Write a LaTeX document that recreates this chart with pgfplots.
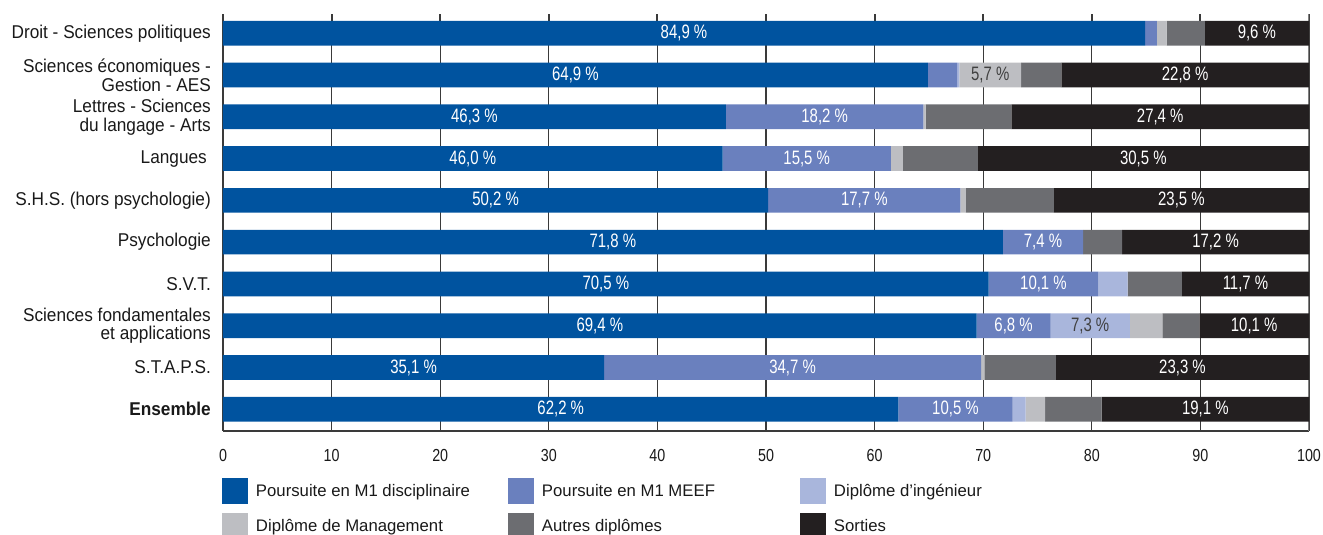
\documentclass[border=0pt]{standalone}
\usepackage{pgfplots}
\usepackage{pgfplotstable}
\pgfplotsset{compat=1.18}
\usepackage{fontspec}
\setmainfont{Liberation Sans}
\newfontfamily\catfont[FakeStretch=0.93]{Liberation Sans}
\newfontfamily\barfont[FakeStretch=0.77]{Liberation Sans}
\newfontfamily\tickfont[FakeStretch=0.82]{Liberation Sans}
\definecolor{cBlue}{HTML}{00539F}
\definecolor{cMeef}{HTML}{6A80BE}
\definecolor{cIng}{HTML}{A9B6DC}
\definecolor{cMgmt}{HTML}{BDBEC2}
\definecolor{cAutres}{HTML}{6C6D71}
\definecolor{cSorties}{HTML}{231F20}
\definecolor{cGrid}{HTML}{3A3A3A}

\pgfplotstableread{
y blue meef ing mgmt autres sorties
0 84.9 1.1 0.0 0.9 3.5 9.6
1 64.9 2.7 0.2 5.7 3.7 22.8
2 46.3 18.2 0.0 0.2 7.9 27.4
3 46.0 15.5 0.0 1.1 6.9 30.5
4 50.2 17.7 0.0 0.5 8.1 23.5
5 71.8 7.4 0.0 0.0 3.6 17.2
6 70.5 10.1 2.7 0.0 5.0 11.7
7 69.4 6.8 7.3 3.0 3.4 10.1
8 35.1 34.7 0.0 0.3 6.6 23.3
9 62.2 10.5 1.2 1.8 5.2 19.1
}\data

\begin{document}
\begin{tikzpicture}
\begin{axis}[name=ax, scale only axis, width=1086bp, height=417bp,
  xbar stacked, bar width=24.7bp,
  xmin=0, xmax=100, ymin=-0.46, ymax=9.52, y dir=reverse,
  axis x line*=bottom, axis y line*=left,
  x axis line style={line width=2bp, color=cGrid},
  y axis line style={line width=1.3bp, color=cGrid},
  xtick={0,10,...,100}, xtick style={draw=none},
  xmajorgrids, major grid style={line width=1.2bp, color=cGrid},
  ytick={0,...,9}, ytick style={draw=none},
  yticklabels={Droit - Sciences politiques,
    {Sciences économiques -\\Gestion - AES},
    {Lettres - Sciences\\du langage - Arts},
    Langues\hspace{4bp},
    S.H.S. (hors psychologie),
    Psychologie,
    S.V.T.,
    {Sciences fondamentales\\et applications},
    S.T.A.P.S.,
    \textbf{Ensemble}},
  yticklabel style={font=\catfont\fontsize{18.6}{19}\selectfont, align=right, inner sep=0pt, xshift=-12bp, text=black!90},
  /pgf/number format/assume math mode=true,
  xticklabel style={font=\tickfont\fontsize{17.5}{17.5}\selectfont, inner sep=0pt, yshift=-18bp, text=black!90},
  legend columns=3, legend cell align=left,
  legend style={draw=none, fill=none, inner sep=0pt, outer sep=0pt,
    at={(0,0)}, anchor=north west, xshift=-1bp, yshift=-47bp,
    row sep=9bp, font=\fontsize{16.8}{16.8}\selectfont, text=black!90,
    /tikz/every odd column/.append style={column sep=8bp},
    /tikz/every even column/.append style={column sep=0pt},
    nodes={inner sep=0pt}},
  legimg/.style={legend image code/.code={\fill[##1] (0bp,-13bp) rectangle (26bp,13bp);}},
]
\addplot[fill=cBlue, draw=none, legimg] table[x=blue, y=y]{\data};
\addlegendentry{\makebox[252bp][l]{Poursuite en M1 disciplinaire}}
\addplot[fill=cMeef, draw=none, legimg] table[x=meef, y=y]{\data};
\addlegendentry{\makebox[258bp][l]{Poursuite en M1 MEEF}}
\addplot[fill=cIng, draw=none, legimg] table[x=ing, y=y]{\data};
\addlegendentry{\makebox[200bp][l]{Diplôme d'ingénieur}}
\addplot[fill=cMgmt, draw=none, legimg] table[x=mgmt, y=y]{\data};
\addlegendentry{\makebox[252bp][l]{Diplôme de Management}}
\addplot[fill=cAutres, draw=none, legimg] table[x=autres, y=y]{\data};
\addlegendentry{\makebox[258bp][l]{Autres diplômes}}
\addplot[fill=cSorties, draw=none, legimg] table[x=sorties, y=y]{\data};
\addlegendentry{\makebox[200bp][l]{Sorties}}
\draw[line width=1.2bp, color=gray] (rel axis cs:1,0) -- (rel axis cs:1,1);
\pgfplotsinvokeforeach{0,0.1,...,1.05}{\draw[line width=2bp, color=cGrid] (rel axis cs:#1,1) -- ++(0,-12bp);}
\end{axis}

\begin{axis}[at={(ax.south west)}, anchor=south west, scale only axis,
  width=1086bp, height=417bp,
  xmin=0, xmax=100, ymin=-0.46, ymax=9.52, y dir=reverse,
  hide axis, clip=false,
  /pgf/number format/assume math mode=true,
  nodes near coords={\pgfmathprintnumber[fixed,fixed zerofill,precision=1,use comma,assume math mode=true]{\pgfplotspointmeta}~\%},
  every node near coord/.append style={anchor=center, inner sep=0pt, font=\barfont\fontsize{19.5}{19.5}\selectfont},
  lbl/.style={only marks, mark=*, mark size=0pt, mark options={draw=none, fill=none}},
  wt/.style={every node near coord/.append style={text=white}},
  dk/.style={every node near coord/.append style={text=black!75}},
]
\addplot[lbl, wt, point meta=\thisrow{blue}] table[x expr=\thisrow{blue}/2, y=y]{\data};
\addplot[lbl, wt, point meta=\thisrow{meef}, restrict expr to domain={\thisrow{meef}}{5:1000}]
  table[x expr=\thisrow{blue}+\thisrow{meef}/2, y=y]{\data};
\addplot[lbl, dk, point meta=\thisrow{ing}, restrict expr to domain={\thisrow{ing}}{5:1000}]
  table[x expr=\thisrow{blue}+\thisrow{meef}+\thisrow{ing}/2, y=y]{\data};
\addplot[lbl, dk, point meta=\thisrow{mgmt}, restrict expr to domain={\thisrow{mgmt}}{5:1000}]
  table[x expr=\thisrow{blue}+\thisrow{meef}+\thisrow{ing}+\thisrow{mgmt}/2, y=y]{\data};
\addplot[lbl, wt, point meta=\thisrow{sorties}]
  table[x expr=100-\thisrow{sorties}/2, y=y]{\data};
\end{axis}

\pgfresetboundingbox
\path ([shift={(-223bp,-104bp)}]ax.south west) rectangle ([shift={(14bp,14bp)}]ax.north east);
\end{tikzpicture}
\end{document}
